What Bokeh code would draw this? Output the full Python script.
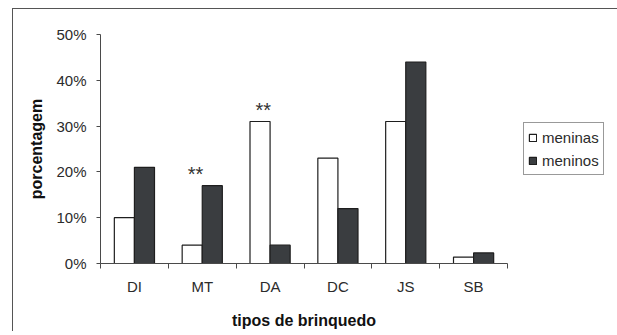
from bokeh.plotting import figure
from bokeh.models import (Range1d, LinearAxis, FixedTicker,
                          PrintfTickFormatter, ColumnDataSource, Legend, LegendItem)
from bokeh.transform import dodge
from bokeh.core.properties import value
from bokeh.embed import file_html
from bokeh.resources import INLINE

# ---- data ----
categories = ["DI", "MT", "DA", "DC", "JS", "SB"]
meninas = [10, 4, 31, 23, 31, 1.4]
meninos = [21, 17, 4, 12, 44, 2.3]
series_names = ["meninas", "meninos"]
y_ticks = [0, 10, 20, 30, 40, 50]
star_categories = ["MT", "DA"]
star_labels = ["**", "**"]

FONT = "Liberation Sans"
AXIS_COLOR = "#4a4a4a"
TEXT_COLOR = "#2b2b2b"

n = len(categories)
centres = [i + 0.5 for i in range(n)]
edges = list(range(n + 1))
src = ColumnDataSource(dict(x=centres, cat=categories, meninas=meninas, meninos=meninos))
star_x = [centres[categories.index(c)] for c in star_categories]
star_y = [max(meninas[categories.index(c)], meninos[categories.index(c)]) for c in star_categories]
star_src = ColumnDataSource(dict(x=star_x, y=star_y, txt=star_labels))

p = figure(x_range=Range1d(0, n), y_range=Range1d(0, 50),
           frame_width=407, frame_height=229,
           x_axis_location=None, y_axis_location="left",
           min_border_left=87, min_border_top=25, min_border_right=102, min_border_bottom=60,
           output_backend="svg", toolbar_location=None,
           background_fill_color="white", border_fill_color="white")
p.outline_line_color = None
p.styles = {"margin-left": "12px", "margin-top": "8px",
            "border-left": "1px solid #555555", "border-top": "1px solid #555555"}

# y axis
ya = p.yaxis[0]
ya.ticker = FixedTicker(ticks=y_ticks)
ya.formatter = PrintfTickFormatter(format="%d%%")
ya.major_tick_out = 4
ya.major_tick_in = 0
ya.minor_tick_line_color = None
ya.axis_line_color = AXIS_COLOR
ya.major_tick_line_color = AXIS_COLOR
ya.major_label_text_font = FONT
ya.major_label_text_font_size = "15px"
ya.major_label_text_color = TEXT_COLOR
ya.major_label_standoff = 10
ya.axis_label = "porcentagem"
ya.axis_label_text_font = FONT
ya.axis_label_text_font_size = "16px"
ya.axis_label_text_font_style = "bold"
ya.axis_label_text_color = "#111111"
ya.axis_label_standoff = 8

# x axis: labels at group centres, ticks at group boundaries (minor ticks)
x_axis = LinearAxis(ticker=FixedTicker(ticks=centres, minor_ticks=edges),
                    major_label_overrides={c: lab for c, lab in zip(centres, categories)},
                    axis_line_color=AXIS_COLOR, major_tick_line_color=None,
                    major_tick_out=0, major_tick_in=0,
                    minor_tick_line_color=AXIS_COLOR, minor_tick_out=5, minor_tick_in=0,
                    major_label_standoff=9,
                    major_label_text_font=FONT, major_label_text_font_size="15px",
                    major_label_text_color=TEXT_COLOR,
                    axis_label="tipos de brinquedo", axis_label_text_font=FONT,
                    axis_label_text_font_size="16px", axis_label_text_font_style="bold",
                    axis_label_text_color="#111111", axis_label_standoff=14)
p.add_layout(x_axis, "below")

for g in p.grid:
    g.visible = False

bw = 0.296
r1 = p.vbar(x=dodge("x", -bw / 2), top="meninas", width=bw, source=src,
            fill_color="white", line_color="#1e1e1e", line_width=1.2)
r2 = p.vbar(x=dodge("x", bw / 2), top="meninos", width=bw, source=src,
            fill_color="#3a3d40", line_color="#1e1e1e", line_width=1.2)

p.text(x=dodge("x", -0.1), y="y", text="txt", source=star_src,
       text_font=value(FONT), text_font_size="20px", text_color="#333333",
       text_align="center", text_baseline="alphabetic", y_offset=-12)

legend = Legend(items=[LegendItem(label=series_names[0], renderers=[r1]),
                       LegendItem(label=series_names[1], renderers=[r2])],
                location=(16, 88), margin=0, padding=4, spacing=3,
                label_text_font=FONT, label_text_font_size="15px", label_text_color=TEXT_COLOR,
                glyph_width=9, glyph_height=9, label_height=20, label_standoff=5,
                border_line_color="#333333", border_line_width=1,
                background_fill_color="white", background_fill_alpha=1.0)
p.add_layout(legend, "right")

open("out.html", "w").write(file_html(p, INLINE))
